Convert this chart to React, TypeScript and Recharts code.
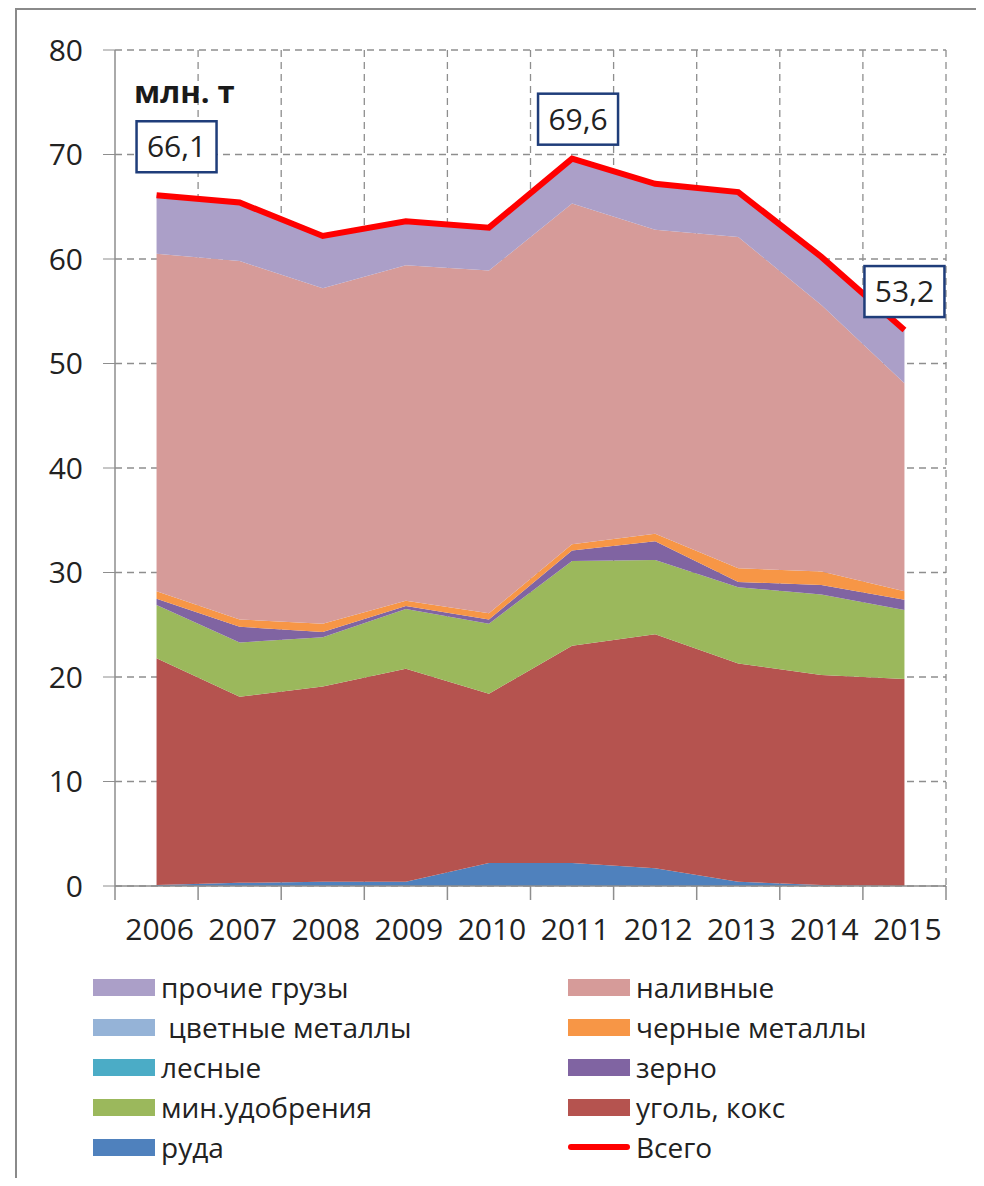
import { Area, CartesianGrid, ComposedChart, LabelList, Line, XAxis, YAxis } from "recharts"

const years = ["2006", "2007", "2008", "2009", "2010", "2011", "2012", "2013", "2014", "2015"]
const ore = [0.1, 0.3, 0.4, 0.4, 2.2, 2.2, 1.7, 0.4, 0.1, 0.0]
const coal = [21.7, 17.8, 18.7, 20.4, 16.2, 20.8, 22.4, 20.9, 20.1, 19.8]
const fertilizer = [5.1, 5.2, 4.7, 5.7, 6.7, 8.1, 7.1, 7.3, 7.7, 6.6]
const timber = [0, 0, 0, 0, 0, 0, 0, 0, 0, 0]
const grain = [0.6, 1.5, 0.5, 0.3, 0.4, 1.0, 1.8, 0.5, 0.9, 1.0]
const ferrous = [0.7, 0.7, 0.8, 0.5, 0.6, 0.6, 0.7, 1.3, 1.3, 0.8]
const nonferrous = [0, 0, 0, 0, 0, 0, 0, 0, 0, 0]
const liquid = [32.3, 34.3, 32.1, 32.1, 32.8, 32.6, 29.1, 31.7, 25.5, 19.9]
const other = [5.6, 5.6, 5.0, 4.2, 4.1, 4.3, 4.4, 4.3, 4.6, 5.1]
const total = [66.1, 65.4, 62.2, 63.6, 63.0, 69.6, 67.2, 66.4, 60.2, 53.2]
const yTicks = [0, 10, 20, 30, 40, 50, 60, 70, 80]

const data = years.map((year, i) => ({
  year,
  ore: ore[i],
  coal: coal[i],
  fertilizer: fertilizer[i],
  timber: timber[i],
  grain: grain[i],
  ferrous: ferrous[i],
  nonferrous: nonferrous[i],
  liquid: liquid[i],
  other: other[i],
  total: total[i],
}))

// stacking order, bottom to top
const series = [
  { key: "ore", name: "руда", color: "#4f81bd" },
  { key: "coal", name: "уголь, кокс", color: "#b5534f" },
  { key: "fertilizer", name: "мин.удобрения", color: "#9bb85c" },
  { key: "timber", name: "лесные", color: "#4bacc6" },
  { key: "grain", name: "зерно", color: "#8064a2" },
  { key: "ferrous", name: "черные металлы", color: "#f79646" },
  { key: "nonferrous", name: " цветные металлы", color: "#95b3d7" },
  { key: "liquid", name: "наливные", color: "#d69b99" },
  { key: "other", name: "прочие грузы", color: "#ab9fc8" },
]
const TOTAL_NAME = "Всего"
const TOTAL_COLOR = "#ff0000"

const legendLeft = ["other", "nonferrous", "timber", "fertilizer", "ore"]
const legendRight = ["liquid", "ferrous", "grain", "coal", "total"]

const FONT = "'Open Sans', 'Noto Sans', sans-serif"
const W = 984
const H = 960
const MARGIN = { top: 50, right: 38, bottom: 0, left: 0 }
const Y_AXIS_W = 115
const PLOT_W = W - MARGIN.right - MARGIN.left - Y_AXIS_W
const HALF_BAND = PLOT_W / years.length / 2
const GRID = "#8e8e8e"

// which points of the total line carry a boxed value
const callouts: Record<number, [number, number]> = { 0: [20, -49], 5: [6, -40], 9: [0, -39] }

function XTick(props: any) {
  const { x, y, payload, index } = props
  const last = index === years.length - 1
  return (
    <g>
      <line x1={x - HALF_BAND} x2={x - HALF_BAND} y1={y - 8} y2={y + 6} stroke={GRID} strokeWidth={1.5} />
      {last && <line x1={x + HALF_BAND} x2={x + HALF_BAND} y1={y - 8} y2={y + 6} stroke={GRID} strokeWidth={1.5} />}
      <text x={x + 3} y={y + 46} textAnchor="middle" fontSize={30} fontFamily={FONT} fill="#222">
        {payload.value}
      </text>
    </g>
  )
}

function Callout(props: any) {
  const { x, y, value, index } = props
  const off = callouts[index]
  if (!off) return null
  const cx = x + off[0]
  const cy = y + off[1]
  return (
    <g>
      <rect x={cx - 40} y={cy - 25} width={80} height={51} fill="#fff" stroke="#1f3d7a" strokeWidth={2.5} />
      <text x={cx} y={cy + 11} textAnchor="middle" fontSize={30} fontFamily={FONT} fill="#222">
        {String(value).replace(".", ",")}
      </text>
    </g>
  )
}

function LegendRow({ k, top, left }: { k: string; top: number; left: number }) {
  const s = series.find((d) => d.key === k)
  const isTotal = k === "total"
  return (
    <div style={{ position: "absolute", top, left, display: "flex", alignItems: "center", height: 40 }}>
      {isTotal ? (
        <div style={{ width: 62, height: 6, borderRadius: 3, background: TOTAL_COLOR }} />
      ) : (
        <div style={{ width: 62, height: 17, background: s!.color }} />
      )}
      <span style={{ marginLeft: 6, fontSize: 28, fontFamily: FONT, color: "#222", whiteSpace: "pre" }}>
        {isTotal ? TOTAL_NAME : s!.name}
      </span>
    </div>
  )
}

export default function App() {
  return (
    <div style={{ position: "relative", margin: -8, width: W, height: 1186, overflow: "hidden", background: "#fff" }}>
      <div
        style={{
          position: "absolute",
          left: 15,
          top: 8,
          width: 1000,
          height: 1174,
          border: "2px solid #8a8a8a",
          boxSizing: "border-box",
        }}
      />
      <div style={{ position: "absolute", left: 0, top: 0 }}>
        <ComposedChart width={W} height={H} data={data} margin={MARGIN}>
          <CartesianGrid
            stroke={GRID}
            strokeDasharray="7 5"
            strokeWidth={1.3}
            verticalCoordinatesGenerator={({ offset }: any) =>
              years.map((_, i) => offset.left + (offset.width * (i + 1)) / years.length)
            }
          />
          <XAxis
            dataKey="year"
            padding={{ left: HALF_BAND, right: HALF_BAND }}
            height={H - 886 - MARGIN.bottom}
            axisLine={{ stroke: GRID, strokeWidth: 1.5 }}
            tickLine={false}
            tick={<XTick />}
            interval={0}
          />
          <YAxis
            width={Y_AXIS_W}
            domain={[0, 80]}
            ticks={yTicks}
            axisLine={{ stroke: GRID, strokeWidth: 1.5 }}
            tickLine={{ stroke: GRID }}
            tickSize={12}
            tickMargin={20}
            tick={{ fontSize: 30, fontFamily: FONT, fill: "#222" }}
          />
          {series.map((s) => (
            <Area
              key={s.key}
              type="linear"
              dataKey={s.key}
              name={s.name}
              stackId="1"
              stroke="none"
              fill={s.color}
              fillOpacity={1}
              isAnimationActive={false}
            />
          ))}
          <Line
            type="linear"
            dataKey="total"
            name={TOTAL_NAME}
            stroke={TOTAL_COLOR}
            strokeWidth={6}
            dot={false}
            isAnimationActive={false}
          >
            <LabelList dataKey="total" content={<Callout />} />
          </Line>
        </ComposedChart>
      </div>
      <div
        style={{
          position: "absolute",
          left: 134,
          top: 70,
          fontFamily: FONT,
          fontWeight: 700,
          fontSize: 31,
          color: "#1a1a1a",
        }}
      >
        млн. т
      </div>
      {legendLeft.map((k, i) => (
        <LegendRow key={k} k={k} top={967 + i * 40} left={93} />
      ))}
      {legendRight.map((k, i) => (
        <LegendRow key={k} k={k} top={967 + i * 40} left={568} />
      ))}
    </div>
  )
}
